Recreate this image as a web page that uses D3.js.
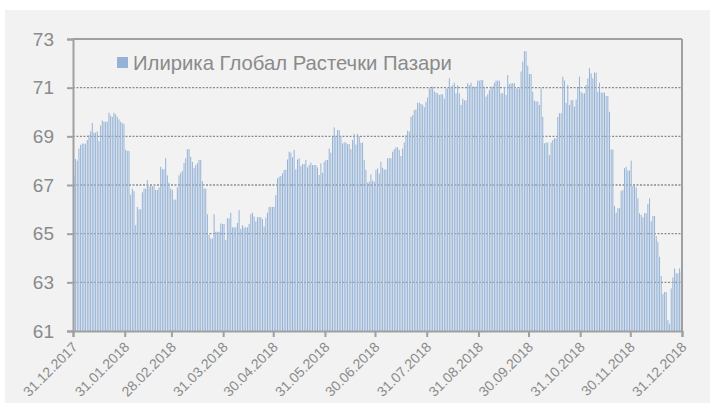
<!DOCTYPE html>
<html>
<head>
<meta charset="utf-8">
<script src="https://cdn.jsdelivr.net/npm/d3@7"></script>
<style>
  body { margin: 0; background: #fff; }
  text { font-family: "Liberation Sans", Arial, sans-serif; }
</style>
</head>
<body>
<div id="chart"></div>
<script>
// series name and tick labels
const seriesName = "Илирика Глобал Растечки Пазари";
const yTicks = [61, 63, 65, 67, 69, 71, 73];
const xTickLabels = ["31.12.2017", "31.01.2018", "28.02.2018", "31.03.2018", "30.04.2018", "31.05.2018",
  "30.06.2018", "31.07.2018", "31.08.2018", "30.09.2018", "31.10.2018", "30.11.2018", "31.12.2018"];

// daily values, one list per month of 2018
const jan = [67.4, 68.07, 68.0, 68.5, 68.65, 68.7, 68.7, 68.7, 68.85, 69.05, 69.2, 69.55, 69.15, 69.15, 69.2, 68.8,
  69.45, 69.65, 69.6, 69.6, 69.6, 69.97, 69.85, 69.8, 69.97, 69.9, 69.8, 69.7, 69.6, 69.55, 69.5];
const feb = [68.45, 68.4, 68.4, 66.6, 66.85, 66.75, 65.35, 66.1, 66.0, 66.0, 66.7, 66.85, 66.85, 67.2, 66.95, 66.95,
  66.95, 66.95, 66.8, 66.8, 66.9, 67.75, 67.65, 67.65, 68.1, 67.4, 67.1, 66.85];
const mar = [66.8, 66.4, 66.4, 66.9, 67.4, 67.5, 67.57, 67.9, 68.1, 68.47, 68.47, 68.16, 67.95, 67.69, 67.82, 67.9,
  68.03, 68.03, 67.16, 66.86, 66.85, 65.8, 64.95, 64.8, 64.8, 65.8, 65.08, 65.08, 65.08, 65.42, 65.4];
const apr = [65.4, 64.74, 65.63, 65.63, 65.86, 65.26, 65.26, 65.26, 65.44, 65.97, 65.2, 65.35, 65.26, 65.26, 65.26,
  65.4, 65.8, 65.86, 65.7, 65.5, 65.68, 65.68, 65.68, 65.6, 65.3, 65.66, 65.86, 66.1, 66.1, 66.1];
const may = [66.1, 66.58, 67.27, 67.34, 67.37, 67.48, 67.62, 67.62, 68.05, 68.37, 68.33, 68.14, 68.44, 67.64, 68.05,
  68.1, 67.78, 67.86, 67.86, 68.03, 67.72, 67.82, 67.92, 67.82, 67.82, 67.82, 67.72, 67.41, 67.89, 67.5, 67.95];
const jun = [68.03, 68.03, 68.5, 68.33, 68.99, 69.37, 69.02, 69.26, 69.26, 69.02, 68.71, 68.75, 68.75, 68.68, 68.68,
  68.47, 68.85, 69.1, 68.66, 69.1, 69.0, 68.74, 68.74, 68.03, 67.62, 67.1, 67.14, 67.44, 67.18, 67.14];
const jul = [67.62, 67.68, 67.47, 67.95, 67.71, 67.64, 67.64, 68.1, 68.1, 68.1, 68.37, 68.47, 68.55, 68.55, 68.44,
  68.19, 68.5, 68.75, 69.05, 69.23, 69.2, 69.8, 69.87, 70.08, 70.1, 70.38, 70.38, 70.33, 70.3, 70.2, 70.42];
const aug = [70.6, 70.97, 70.97, 71.04, 70.85, 70.8, 70.77, 70.7, 70.73, 70.73, 70.55, 70.97, 70.97, 71.38, 71.04,
  71.1, 71.2, 70.77, 71.1, 70.77, 70.29, 70.55, 70.48, 70.48, 71.18, 71.1, 71.2, 71.04, 71.04, 71.04, 71.29];
const sep = [71.29, 71.31, 71.31, 71.04, 70.63, 70.73, 70.9, 71.04, 71.04, 71.2, 71.29, 71.29, 71.29, 70.77, 70.77,
  71.04, 70.7, 71.52, 71.15, 71.18, 71.18, 71.18, 70.97, 70.97, 70.97, 71.66, 72.07, 72.5, 72.5, 71.9];
const oct = [71.56, 71.56, 70.83, 70.46, 70.43, 70.43, 70.29, 70.97, 69.8, 68.71, 68.74, 68.74, 68.23, 68.74, 68.85,
  68.92, 68.92, 69.8, 69.95, 69.95, 71.45, 71.3, 70.38, 71.11, 70.29, 70.49, 70.49, 70.22, 70.51, 71.0, 71.45];
const nov = [70.83, 70.77, 70.77, 71.11, 71.38, 71.8, 71.59, 71.38, 71.62, 71.62, 70.83, 71.2, 70.8, 70.8, 70.8,
  70.66, 70.66, 70.01, 68.47, 68.45, 66.14, 65.86, 66.05, 66.05, 66.75, 66.8, 67.69, 67.75, 67.6, 67.6];
const dec = [68.0, 66.96, 66.96, 66.9, 66.45, 65.84, 65.77, 65.67, 65.84, 65.84, 66.22, 66.45, 65.5, 65.73, 65.73,
  64.9, 64.67, 64.05, 63.26, 62.52, 62.6, 62.6, 61.45, 61.3, 62.75, 63.2, 63.57, 63.37, 63.37, 63.57, 63.4];

const width = 710;
const height = 403;
const margin = {top: 39, right: 28, bottom: 72, left: 73};

const parse = d3.timeParse("%d.%m.%Y");
const tickDates = xTickLabels.map(parse);

const values = [].concat(jan, feb, mar, apr, may, jun, jul, aug, sep, oct, nov, dec);
const start = tickDates[0];
const data = values.map((v, i) => ({date: d3.timeDay.offset(start, i + 1), value: v}));

const svg = d3.select("#chart")
    .append("svg")
    .attr("width", width)
    .attr("height", height);

// grey chart area
svg.append("rect")
    .attr("x", 5).attr("y", 10)
    .attr("width", width - 5).attr("height", height - 10)
    .attr("fill", "#f2f2f2");

const x = d3.scaleTime()
    .domain([tickDates[0], tickDates[tickDates.length - 1]])
    .range([margin.left, width - margin.right]);

const y = d3.scaleLinear()
    .domain([61, 73])
    .range([height - margin.bottom, margin.top]);

// dotted gridlines
svg.append("g")
    .selectAll("line")
    .data(yTicks.filter(t => t > 61 && t < 73))
    .enter().append("line")
        .attr("x1", margin.left)
        .attr("x2", width - margin.right)
        .attr("y1", d => y(d))
        .attr("y2", d => y(d))
        .attr("stroke", "#8c8c8c")
        .attr("stroke-width", 1.3)
        .attr("stroke-dasharray", "2,1.5");

// bars, one per day
svg.append("g")
    .selectAll("rect")
    .data(data)
    .enter().append("rect")
        .attr("x", d => {
            const x0 = x(d3.timeDay.offset(d.date, -1));
            return x0 + (x(d.date) - x0) * 0.25;
        })
        .attr("width", d => (x(d.date) - x(d3.timeDay.offset(d.date, -1))) * 0.6)
        .attr("y", d => y(d.value))
        .attr("height", d => y(61) - y(d.value))
        .attr("fill", "#95b3d7");

// frame: top and right
svg.append("line")
    .attr("x1", margin.left).attr("x2", width - margin.right)
    .attr("y1", y(73)).attr("y2", y(73))
    .attr("stroke", "#a0a0a0").attr("stroke-width", 2);
svg.append("line")
    .attr("x1", width - margin.right).attr("x2", width - margin.right)
    .attr("y1", y(73)).attr("y2", y(61))
    .attr("stroke", "#a0a0a0").attr("stroke-width", 2);

// y axis
const yAxis = svg.append("g")
    .attr("transform", `translate(${margin.left},0)`)
    .call(d3.axisLeft(y).tickValues(yTicks).tickFormat(d3.format("d")).tickSize(6).tickPadding(13));
yAxis.select(".domain").attr("stroke", "#a0a0a0").attr("stroke-width", 2);
yAxis.selectAll(".tick line").attr("stroke", "#a0a0a0").attr("stroke-width", 2);
yAxis.selectAll("text")
    .style("font-size", "19px")
    .attr("fill", "#8a8a8a");

// x axis
const xAxis = svg.append("g")
    .attr("transform", `translate(0,${y(61)})`)
    .call(d3.axisBottom(x).tickValues(tickDates).tickFormat((d, i) => xTickLabels[i]).tickSize(6));
xAxis.select(".domain").attr("stroke", "#a0a0a0").attr("stroke-width", 2);
xAxis.selectAll(".tick line").attr("stroke", "#a0a0a0").attr("stroke-width", 2);
xAxis.selectAll("text")
    .style("font-size", "14px")
    .style("text-anchor", "end")
    .attr("fill", "#8a8a8a")
    .attr("dy", null)
    .attr("y", null)
    .attr("transform", "translate(5,17) rotate(-45)");

// legend
const legend = svg.append("g");
legend.append("rect")
    .attr("x", 117).attr("y", 57)
    .attr("width", 11).attr("height", 11)
    .attr("fill", "#95b3d7");
legend.append("text")
    .attr("x", 133).attr("y", 70)
    .style("font-size", "20.3px")
    .attr("fill", "#8a8a8a")
    .text(seriesName);
</script>
</body>
</html>
